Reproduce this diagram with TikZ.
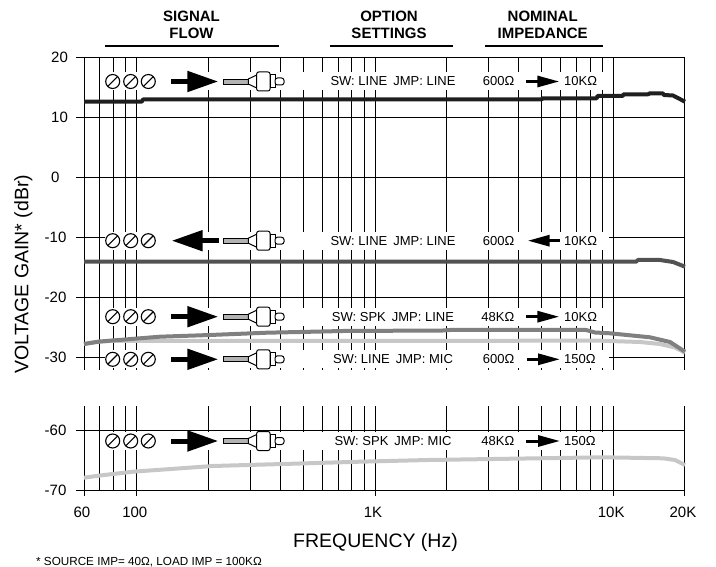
\documentclass[tikz,border=0pt]{standalone}
\usepackage{fontspec}
\setmainfont{Liberation Sans}
\usetikzlibrary{arrows.meta}

\tikzset{
  gridline/.style={line width=0.9pt},
  ticklab/.style={font=\fontsize{15}{18}\selectfont, inner sep=0pt},
  axistitle/.style={font=\fontsize{19.5}{23}\selectfont, inner sep=0pt},
  head/.style={font=\fontsize{15}{16.7}\selectfont\bfseries, align=center, inner sep=0pt},
  rowtext/.style={font=\fontsize{13}{15}\selectfont, inner sep=0pt},
  screw/.style={circle, draw, fill=white, line width=1.1pt, minimum size=14pt, inner sep=0pt,
    path picture={\draw[line width=1.1pt] (path picture bounding box.south west) -- (path picture bounding box.north east);}},
  flow/.style={line width=5pt, -{Triangle[length=31pt,width=20pt]}},
  impflow/.style={line width=3pt, -{Triangle[length=22pt,width=11pt]}},
  curve/.style={line width=4pt, line join=round},
}

\begin{document}
\begin{tikzpicture}[x=1pt,y=-1pt]
\useasboundingbox (0,0) rectangle (716,567);

% grid (frequencies in tens of Hz)
\foreach \f in {6,7,8,9,10,20,30,40,50,60,70,80,90,100,200,300,400,500,600,700,800,900,1000,2000}{
  \pgfmathsetmacro\xf{84+238.2*log10(\f/6)}
  \draw[gridline] (\xf,57) -- (\xf,370);
  \draw[gridline] (\xf,406) -- (\xf,490);
}
\foreach \yy in {57,117,177,237,297,357,430,490}
  \draw[gridline] (76,\yy) -- (685,\yy);

% frequency labels
\foreach \f/\t in {6/60,10/100,100/1K,1000/10K,2000/20K}{
  \pgfmathsetmacro\xf{84+238.2*log10(\f/6)}
  \draw[gridline] (\xf,490) -- (\xf,496);
  \node[ticklab] (x\t) at (\xf-2,512) {\t};
}

% gain labels
\foreach \t/\yy/\xx in {20/57/51,10/117/51,0/177/51,-10/237/44.5,-20/297/44.5,-30/357/44.5,-60/430/44.5,-70/490/44.5}
  \node[ticklab,anchor=west] (g\t) at (\xx,\yy) {\t};

% headings
\node[head] (h1) at (191.5,24.7) {SIGNAL\\FLOW};
\node[head] (h2) at (389,24.7) {OPTION\\SETTINGS};
\node[head] (h3) at (542.7,24.7) {NOMINAL\\IMPEDANCE};
\draw[line width=2pt] (105,45.7) -- (279.3,45.7);
\draw[line width=2pt] (330,45.7) -- (453.3,45.7);
\draw[line width=2pt] (485,45.7) -- (603.3,45.7);

% rows
\foreach \r/\y/\sa/\sb/\sw/\za/\ia/\ib/\zb in {
  1/81.5/171/218.3/{SW: LINE\hspace{6pt}JMP: LINE}/600Ω/526/559.3/10KΩ,
  2/240.7/219/171.7/{SW: LINE\hspace{6pt}JMP: LINE}/600Ω/560/527.7/10KΩ,
  3/316.7/171/218.3/{SW: SPK\hspace{6pt}JMP: LINE}/48KΩ/526/559.3/10KΩ,
  4/359.3/171/218.3/{SW: LINE\hspace{6pt}JMP: MIC}/600Ω/527/560/150Ω,
  5/441/171/218.3/{SW: SPK\hspace{6pt}JMP: MIC}/48KΩ/526/560/150Ω}{
  \fill[white] (105,\y-9) rectangle (609,\y+9);
  \node[screw] (sa\r) at (112.7,\y) {};
  \node[screw] (sb\r) at (130.7,\y) {};
  \node[screw] (sc\r) at (148.3,\y) {};
  \coordinate (fa\r) at (\sa,\y);
  \coordinate (fb\r) at (\sb,\y);
  \draw[flow] (fa\r) -- (fb\r);
  % plug
  \draw[line width=0.7pt,fill=black!30] (223.3,\y-2.5) rectangle (248.3,\y+2.5);
  \draw[line width=1pt,fill=white,line join=round] (248.3,\y-2.5) -- (256.7,\y-6.5) -- (256.7,\y+6.5) -- (248.3,\y+2.5) -- cycle;
  \draw[line width=1pt,fill=white,rounded corners=2pt] (256.7,\y-9.5) rectangle (270,\y+9.5);
  \draw[line width=1pt,fill=white] (270,\y-6.5) rectangle (275,\y+6.5);
  \draw[line width=1pt,fill=white,rounded corners=2.5pt] (275,\y-3.5) rectangle (284,\y+3.5);
  \node[rowtext] (sw\r) at (393,\y) {\sw};
  \node[rowtext,anchor=east] (za\r) at (514.5,\y) {\za};
  \node[rowtext,anchor=west] (zb\r) at (564,\y) {\zb};
  \coordinate (ia\r) at (\ia,\y);
  \coordinate (ib\r) at (\ib,\y);
  \draw[impflow] (ia\r) -- (ib\r);
}

% curves
\draw[curve,black!88] (84,101.7) -- (141.7,101.7) -- (143,99.5) -- (541.7,99.5) -- (542.5,98.3) -- (596.7,98.3) -- (597.5,96)
  -- (622.7,96) -- (623.5,94.3) -- (648,94.3) -- (650,93.3) -- (662.7,93.3) -- (664,95) -- (673,95.5) -- (685,101.7);
\draw[curve,black!68] (84,261.7) -- (636,261.7) -- (638,260) -- (660,260) -- (673,262) -- (685,266.7);
\draw[curve,black!22] (84,344) -- (95,342) -- (110,341) -- (600,340.7) -- (640,342) -- (660,344) -- (675,347.5) -- (685,352.7);
\draw[curve,black!50] (84,344) -- (100,341.5) -- (160,336.7) -- (210,335) -- (267,332.7) -- (300,332) -- (343,331)
  -- (443,330.5) -- (450,330) -- (586,330) -- (595,332.5) -- (610,333.3) -- (650,337.3) -- (670,342) -- (685,351.7);
\draw[curve,black!22] (84,477.7) -- (100,475.5) -- (133,471.7) -- (213,466) -- (300,463.5) -- (360,461.7) -- (428,460)
  -- (493,459) -- (603,457.3) -- (663,458.3) -- (675,460) -- (685,465);

% axis titles
\node[axistitle,rotate=90] (ylab) at (23.3,274) {VOLTAGE GAIN* (dBr)};
\node[axistitle] (xlab) at (375.5,542) {FREQUENCY (Hz)};
\node[anchor=base west,font=\fontsize{11.7}{14}\selectfont,inner sep=0pt] (note) at (36,565) {* SOURCE IMP= 40Ω, LOAD IMP = 100KΩ};
\end{tikzpicture}
\end{document}
